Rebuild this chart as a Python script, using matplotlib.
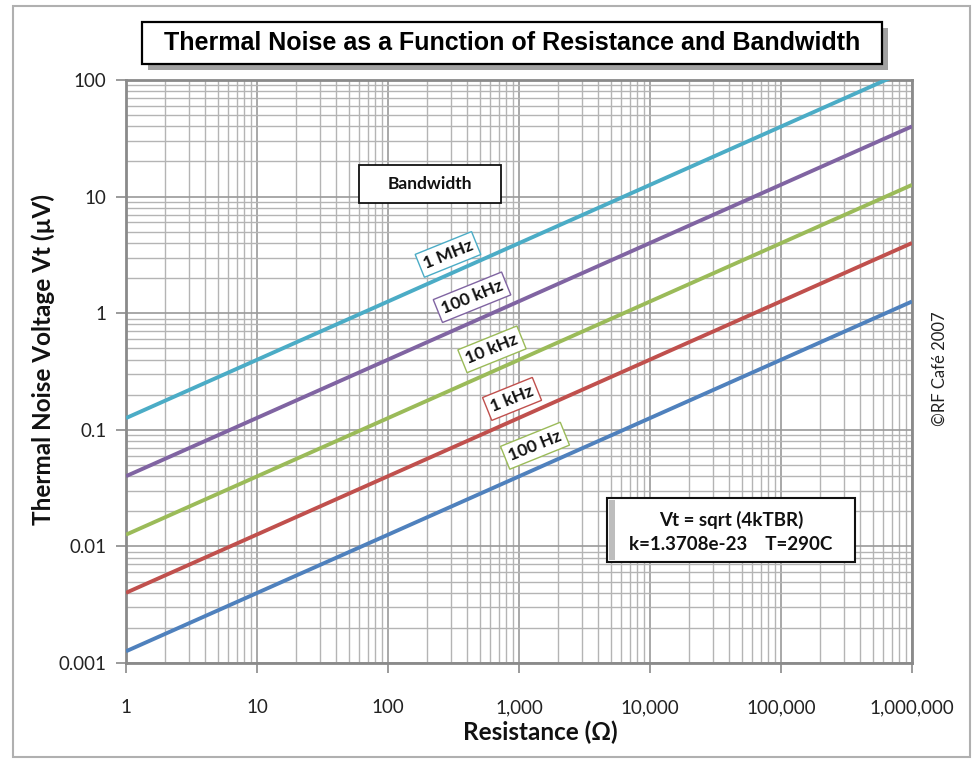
import matplotlib
matplotlib.use("Agg")
import matplotlib.pyplot as plt
import matplotlib.patheffects as pe
from matplotlib.patches import Rectangle
from matplotlib.ticker import FixedLocator, LogLocator, NullFormatter

# ---- data ----
resistance = [1, 1_000_000]
v_1mhz = [0.126, 126]
v_100khz = [0.040, 40]
v_10khz = [0.0126, 12.6]
v_1khz = [0.0040, 4.0]
v_100hz = [0.00126, 1.26]

series_names = ["1 MHz", "100 kHz", "10 kHz", "1 kHz", "100 Hz"]
series_values = [v_1mhz, v_100khz, v_10khz, v_1khz, v_100hz]
series_colors = ["#4BACC6", "#8064A2", "#9BBB59", "#C0504D", "#4F81BD"]
label_border = ["#4BACC6", "#8064A2", "#9BBB59", "#C0504D", "#9BBB59"]
label_pos = [(287, 3.19), (438, 1.37), (622, 0.49), (885, 0.184), (1325, 0.073)]

x_ticks = [1, 10, 100, 1000, 10000, 100000, 1000000]
x_ticklabels = ["1", "10", "100", "1,000", "10,000", "100,000", "1,000,000"]
y_ticks = [0.001, 0.01, 0.1, 1, 10, 100]
y_ticklabels = ["0.001", "0.01", "0.1", "1", "10", "100"]

FONT = ["Lato", "DejaVu Sans"]
TITLE_FONT = ["Liberation Sans", "DejaVu Sans"]

fig = plt.figure(figsize=(9.78, 7.63), dpi=100)
fig.patch.set_facecolor("white")
W, H = 978, 763

# outer border
fig.patches.append(Rectangle((13 / W, 6 / H), (970 - 13) / W, (757 - 6) / H,
                             transform=fig.transFigure, fill=False,
                             edgecolor="#B0B0B0", linewidth=1.5))

ax = fig.add_axes([126 / W, 1 - 663 / H, (912 - 126) / W, (663 - 80) / H])
ax.set_xscale("log")
ax.set_yscale("log")
ax.set_xlim(1, 1e6)
ax.set_ylim(0.001, 100)

for name, vals, col in zip(series_names, series_values, series_colors):
    ax.plot(resistance, vals, color=col, linewidth=2.8, solid_capstyle="butt",
            zorder=3)

ax.xaxis.set_major_locator(FixedLocator(x_ticks))
ax.yaxis.set_major_locator(FixedLocator(y_ticks))
ax.set_xticklabels(x_ticklabels, fontfamily=FONT, fontsize=13.5, color="#222222")
ax.set_yticklabels(y_ticklabels, fontfamily=FONT, fontsize=13.5, color="#222222")
ax.xaxis.set_minor_locator(LogLocator(base=10, subs=range(2, 10), numticks=20))
ax.yaxis.set_minor_locator(LogLocator(base=10, subs=range(2, 10), numticks=20))
ax.xaxis.set_minor_formatter(NullFormatter())
ax.yaxis.set_minor_formatter(NullFormatter())

ax.grid(True, which="major", color="#9A9A9A", linewidth=1.2)
ax.grid(True, which="minor", color="#B4B4B4", linewidth=1.0)
ax.set_axisbelow(True)
ax.tick_params(which="major", direction="out", length=7, width=1.2,
               color="#8A8A8A")
ax.tick_params(axis="x", which="major", pad=19)
ax.tick_params(axis="y", which="major", pad=7)
ax.tick_params(which="minor", length=0)
for sp in ax.spines.values():
    sp.set_color("#8A8A8A")
    sp.set_linewidth(2)

ax.set_xlabel("Resistance (Ω)", fontfamily=FONT, fontsize=17.5,
              fontweight="bold", color="#111111")
ax.set_ylabel("Thermal Noise Voltage Vt (µV)", fontfamily=FONT, fontsize=17.5,
              fontweight="bold", color="#111111")
ax.xaxis.set_label_coords((540 - 126) / 786, -(721 - 663) / 583)
ax.yaxis.set_label_coords(-(126 - 55) / 786, (663 - 360) / 583)

# series labels
for name, (lx, ly), bc in zip(series_names, label_pos, label_border):
    ax.text(lx, ly, name, fontfamily=FONT, fontsize=12.5, fontweight="bold",
            color="#111111", rotation=22, ha="center", va="center",
            rotation_mode="anchor", zorder=5,
            bbox=dict(boxstyle="square,pad=0.25", facecolor="white",
                      edgecolor=bc, linewidth=1.0))

# Bandwidth box
fig.patches.append(Rectangle((359 / W, 1 - 203 / H), (501 - 359) / W,
                             (203 - 165) / H, transform=fig.transFigure,
                             facecolor="white", edgecolor="#111111",
                             linewidth=1.3, zorder=6))
fig.text(430 / W, 1 - 184 / H, "Bandwidth", fontfamily=FONT, fontsize=12.5,
         fontweight="bold", color="#111111", ha="center", va="center",
         zorder=8)

# formula box
fig.patches.append(Rectangle((607 / W, 1 - 562 / H), (855 - 607) / W,
                             (562 - 498) / H, transform=fig.transFigure,
                             facecolor="white", edgecolor="#111111",
                             linewidth=1.5, zorder=6))
fig.patches.append(Rectangle((609 / W, 1 - 560 / H), 6 / W, 60 / H,
                             transform=fig.transFigure, facecolor="#BDBDBD",
                             edgecolor="none", zorder=7))
fig.text(731 / W, 1 - 520 / H, "Vt = sqrt (4kTBR)", fontfamily=FONT,
         fontsize=13.5, fontweight="bold", color="#111111", ha="center",
         va="center", zorder=8)
fig.text(731 / W, 1 - 545 / H, "k=1.3708e-23    T=290C", fontfamily=FONT,
         fontsize=13.5, fontweight="bold", color="#111111", ha="center",
         va="center", zorder=8)

# title
tb = Rectangle((142 / W, 1 - 64 / H), (882 - 142) / W, (64 - 22) / H,
               transform=fig.transFigure, facecolor="white",
               edgecolor="black", linewidth=1.6, zorder=6)
tb.set_path_effects([
    pe.SimplePatchShadow(offset=(4, -4), shadow_rgbFace="#8A8A8A", alpha=0.8),
    pe.Normal()])
fig.patches.append(tb)
fig.text(512 / W, 1 - 43 / H,
         "Thermal Noise as a Function of Resistance and Bandwidth",
         fontfamily=TITLE_FONT, fontsize=18, fontweight="bold",
         color="black", ha="center", va="center", zorder=8)

# copyright
fig.text(940 / W, 1 - 369 / H, "©RF Café 2007", fontfamily=FONT, fontsize=12,
         color="#222222", rotation=90, ha="center", va="center")

fig.savefig("out.png", dpi=100, facecolor="white")
